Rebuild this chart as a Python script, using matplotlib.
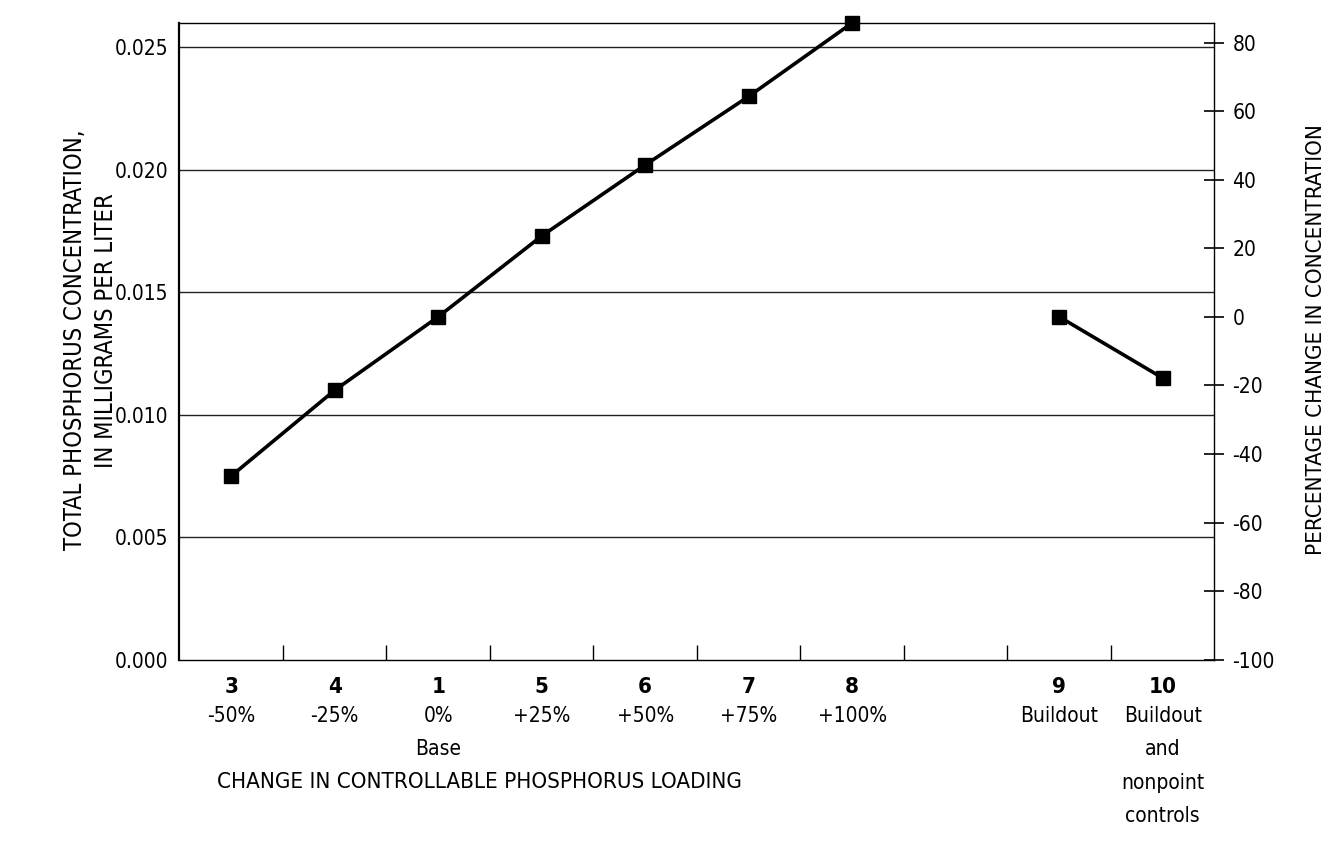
import numpy as np
import matplotlib
matplotlib.use("Agg")
import matplotlib.pyplot as plt

plt.rcParams['font.family'] = ['DejaVu Sans']
plt.rcParams['font.stretch'] = 'condensed'
plt.rcParams['axes.unicode_minus'] = False

# Scenario numbers, loading change and modelled concentration (mg/L)
scenario_ids = ['3', '4', '1', '5', '6', '7', '8', '9', '10']
loading_labels = ['-50%', '-25%', '0%\nBase', '+25%', '+50%', '+75%', '+100%',
                  'Buildout', 'Buildout\nand\nnonpoint\ncontrols']
concentration = [0.0075, 0.0110, 0.0140, 0.0173, 0.0202, 0.0230, 0.0260,
                 0.0140, 0.0115]
base_concentration = 0.0140
n_loading = 7  # scenarios in the loading series, rest are buildout runs

# loading runs side by side, then a one-slot gap before the buildout runs
xpos = np.array([i + 0.5 if i < n_loading else i + 1.5 for i in range(len(scenario_ids))])
conc = np.array(concentration)

fig = plt.figure(figsize=(13.39, 8.49), dpi=100)
ax = fig.add_axes([0.134, 0.223, 0.773, 0.750])

for y in [0.005, 0.010, 0.015, 0.020, 0.025]:
    ax.axhline(y, color='#222222', lw=1.0, zorder=1)

ax.plot(xpos[:n_loading], conc[:n_loading], color='black', lw=2.6,
        marker='s', markersize=10, zorder=3, clip_on=False)
ax.plot(xpos[n_loading:], conc[n_loading:], color='black', lw=2.6,
        marker='s', markersize=10, zorder=3, clip_on=False)

ax.set_xlim(0, 10)
ax.set_ylim(0, 0.026)
ax.set_yticks([0.000, 0.005, 0.010, 0.015, 0.020, 0.025])
ax.set_yticklabels(['0.000', '0.005', '0.010', '0.015', '0.020', '0.025'])
ax.tick_params(axis='y', length=0, pad=8, labelsize=15)
ax.set_xticks(np.arange(1, 10))
ax.set_xticklabels([])
ax.tick_params(axis='x', direction='in', length=11, width=1.0)
for side in ['top', 'right', 'bottom']:
    ax.spines[side].set_linewidth(1.0)
ax.spines['left'].set_linewidth(1.6)

# right axis: percentage change from the base run
ax2 = ax.twinx()
ax2.set_ylim(-100, (0.026 / base_concentration - 1) * 100)
ax2.set_yticks(np.arange(-100, 81, 20))
ax2.tick_params(axis='y', direction='inout', length=14, width=1.2, pad=6, labelsize=15)
for side in ['top', 'right', 'bottom', 'left']:
    ax2.spines[side].set_visible(False)

# category labels below the axis
for x, sid, lab in zip(xpos, scenario_ids, loading_labels):
    ax.annotate(sid, xy=(x, 0), xycoords=('data', 'axes fraction'),
                xytext=(0, -20), textcoords='offset points',
                ha='center', va='center', fontsize=16, fontweight='bold')
    ax.annotate(lab, xy=(x, 0), xycoords=('data', 'axes fraction'),
                xytext=(0, -33), textcoords='offset points',
                ha='center', va='top', fontsize=15, linespacing=1.85)

ax.annotate('CHANGE IN CONTROLLABLE PHOSPHORUS LOADING', xy=(2.9, 0),
            xycoords=('data', 'axes fraction'), xytext=(0, -88),
            textcoords='offset points', ha='center', va='center', fontsize=16)

fig.text(0.056, 0.60, 'TOTAL PHOSPHORUS CONCENTRATION,', rotation=90,
         ha='center', va='center', fontsize=17)
fig.text(0.079, 0.61, 'IN MILLIGRAMS PER LITER', rotation=90,
         ha='center', va='center', fontsize=17)
fig.text(0.983, 0.60, 'PERCENTAGE CHANGE IN CONCENTRATION', rotation=90,
         ha='center', va='center', fontsize=16)

fig.savefig('out.png', dpi=100, facecolor='white')
